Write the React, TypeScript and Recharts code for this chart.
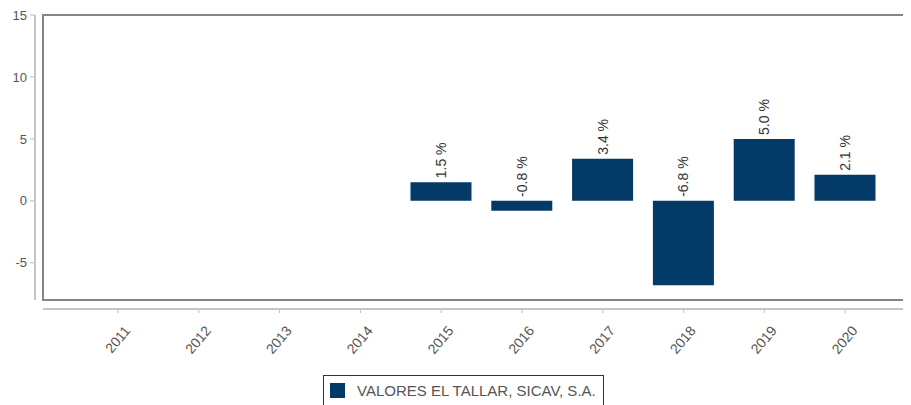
import React from "react";
import { BarChart, Bar, XAxis, YAxis, LabelList, Legend } from "recharts";

const years = ["2011", "2012", "2013", "2014", "2015", "2016", "2017", "2018", "2019", "2020"];
const returns: (number | null)[] = [null, null, null, null, 1.5, -0.8, 3.4, -6.8, 5.0, 2.1];
const yTicks = [-5, 0, 5, 10, 15];
const seriesName = "VALORES EL TALLAR, SICAV, S.A.";

const data = years.map((y, i) => ({ year: y, value: returns[i] }));

const BAR_COLOR = "#033a67";
const FONT = "'Liberation Sans', Arial, sans-serif";

const renderLabel = (props: any) => {
  const { x, y, width, height, value } = props;
  if (value === null || value === undefined) return null;
  const top = Math.min(y, y + height);
  const cx = x + width / 2 + 5;
  const ty = top - 4;
  return (
    <text
      x={cx}
      y={ty}
      transform={`rotate(-90, ${cx}, ${ty})`}
      textAnchor="start"
      fontSize={14}
      fontFamily={FONT}
      fill="#333"
    >
      {`${Number(value).toFixed(1)} %`}
    </text>
  );
};

const XTick = (props: any) => {
  const { x, y, payload } = props;
  const ax = x + 13;
  const ay = y + 16;
  return (
    <text
      x={ax}
      y={ay}
      transform={`rotate(-50, ${ax}, ${ay})`}
      textAnchor="end"
      fontSize={14}
      fontFamily={FONT}
      fill="#555"
    >
      {payload.value}
    </text>
  );
};

const LegendContent = () => (
  <div
    style={{
      border: "1.5px solid #333",
      width: 281,
      height: 36,
      boxSizing: "border-box",
      display: "flex",
      alignItems: "flex-start",
      paddingTop: 7,
      paddingLeft: 6,
      fontFamily: FONT,
      fontSize: 15,
      color: "#555",
      background: "#fff",
    }}
  >
    <span style={{ display: "inline-block", width: 15, height: 15, background: BAR_COLOR, marginRight: 12 }} />
    <span style={{ lineHeight: "16px" }}>{seriesName}</span>
  </div>
);

export default function App() {
  return (
    <div style={{ position: "relative", width: 903, height: 397, overflow: "hidden" }}>
      <BarChart
        width={930}
        height={397}
        data={data}
        margin={{ top: 7, right: 0, left: 0, bottom: 36 }}
        barCategoryGap="12%"
      >
        <XAxis
          dataKey="year"
          padding={{ left: 42.6, right: 52.4 }}
          axisLine={false}
          tickLine={{ stroke: "#bbb" }}
          tickSize={4}
          tickMargin={2}
          height={60}
          interval={0}
          tick={<XTick />}
        />
        <YAxis
          domain={[-8, 15]}
          ticks={yTicks}
          width={27}
          padding={{ top: 0, bottom: 9 }}
          axisLine={false}
          tickLine={{ stroke: "#bbb" }}
          tickSize={5}
          tickMargin={3}
          interval={0}
          tick={{ fontSize: 13, fill: "#555", fontFamily: FONT }}
          allowDataOverflow
        />
        <Bar dataKey="value" name={seriesName} fill={BAR_COLOR} isAnimationActive={false}>
          <LabelList dataKey="value" content={renderLabel} />
        </Bar>
        <Legend
          layout="horizontal"
          verticalAlign="middle"
          align="center"
          wrapperStyle={{ position: "absolute", top: 367, left: 315, width: 281 }}
          content={<LegendContent />}
        />
      </BarChart>
      <div
        style={{
          position: "absolute",
          left: 34,
          top: 6,
          width: 900,
          height: 287,
          border: "2px solid #858585",
          boxSizing: "border-box",
          pointerEvents: "none",
        }}
      />
      <div
        style={{
          position: "absolute",
          left: 26,
          top: 7,
          width: 2,
          height: 285,
          background: "#c4c4c4",
          pointerEvents: "none",
        }}
      />
      <div
        style={{
          position: "absolute",
          left: 35,
          top: 300,
          width: 900,
          height: 2,
          background: "#c4c4c4",
          pointerEvents: "none",
        }}
      />
    </div>
  );
}
